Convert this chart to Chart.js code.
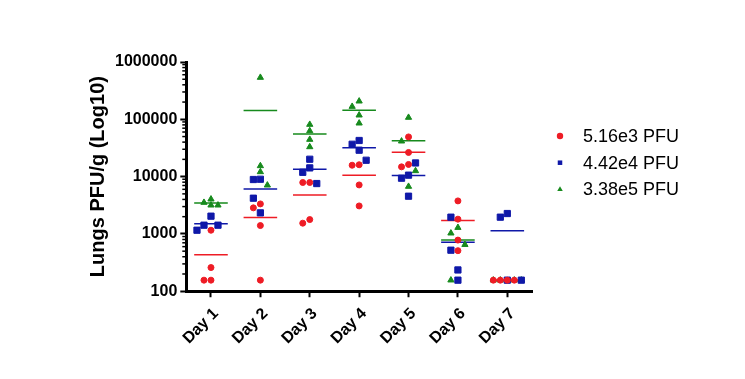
<!DOCTYPE html>
<html>
<head>
<meta charset="utf-8">
<script src="https://cdn.jsdelivr.net/npm/chart.js@4.4.0/dist/chart.umd.min.js"></script>
<style>
  html, body { margin: 0; padding: 0; background: #fff; }
  #wrap { width: 745px; height: 379px; }
</style>
</head>
<body>
<div id="wrap"><canvas id="chart"></canvas></div>
<script>
// Categories, legend names and y tick labels
const days = ["Day 1", "Day 2", "Day 3", "Day 4", "Day 5", "Day 6", "Day 7"];
const doseNames = ["5.16e3 PFU", "4.42e4 PFU", "3.38e5 PFU"];
const yTicks = [100, 1000, 10000, 100000, 1000000];

// Lung titres (PFU/g), four animals per day
const lowDose = [
  [1160, 259, 156, 156],
  [3340, 2850, 1400, 156],
  [7890, 7890, 1780, 1540],
  [16100, 15800, 7160, 3080],
  [49300, 26400, 16300, 14800],
  [3770, 1810, 780, 510],
  [156, 156, 156, 156]
];
const midDose = [
  [2040, 1420, 1420, 1160],
  [9000, 8900, 4200, 2330],
  [20100, 14200, 11900, 7570],
  [42700, 36700, 28900, 19300],
  [17300, 10600, 9380, 4550],
  [1960, 520, 235, 156],
  [2270, 1960, 156, 156]
];
const highDose = [
  [4040, 3530, 3170, 3170],
  [536000, 15400, 12100, 7080],
  [81100, 62800, 44400, 33000],
  [207000, 167000, 118000, 85500],
  [107500, 41500, 12600, 6720],
  [1290, 1030, 650, 156],
  [156, 156, 156, 156]
];

const doses = [lowDose, midDose, highDose];
const colors = ["#ee1c25", "#0f18a8", "#178a1d"];
const shapes = ["circle", "rect", "triangle"];
const sizes = [3, 4.4, 3.6];
const fontFamily = "'Liberation Sans', Arial, sans-serif";

function mean(arr) {
  return arr.reduce((a, b) => a + b, 0) / arr.length;
}

// scatter points, one dataset per dose
const pointSets = doses.map((dose, k) => ({
  type: "scatter",
  label: doseNames[k],
  data: dose.flatMap((vals, i) => vals.map(v => ({ x: i, y: v, day: i }))),
  pointStyle: shapes[k],
  pointRadius: sizes[k],
  pointBackgroundColor: colors[k],
  pointBorderColor: colors[k],
  pointBorderWidth: 1
}));

// mean bars, short horizontal lines per day
const halfBar = 0.34;
const meanSets = doses.map((dose, k) => ({
  type: "line",
  label: doseNames[k] + " mean",
  data: dose.flatMap((vals, i) => [
    { x: i - halfBar, y: mean(vals) },
    { x: i + halfBar, y: mean(vals) },
    { x: i, y: null }
  ]),
  borderColor: colors[k],
  borderWidth: 1.5,
  pointRadius: 0,
  spanGaps: false
}));

// minor ticks on the log axis + legend on the right
const extras = {
  id: "extras",
  afterDraw(chart) {
    const { ctx, chartArea } = chart;
    const y = chart.scales.y;
    ctx.save();
    ctx.strokeStyle = "#000";
    ctx.lineWidth = 1.5;
    for (let p = 2; p < 6; p++) {
      for (let m = 2; m < 10; m++) {
        const py = y.getPixelForValue(m * Math.pow(10, p));
        ctx.beginPath();
        ctx.moveTo(chartArea.left - 4, py);
        ctx.lineTo(chartArea.left, py);
        ctx.stroke();
      }
    }
    ctx.font = "18px " + fontFamily;
    ctx.textBaseline = "middle";
    doseNames.forEach((name, k) => {
      const ly = chartArea.top + 74 + k * 26.7;
      ctx.fillStyle = colors[k];
      Chart.helpers.drawPoint(ctx, { pointStyle: shapes[k], radius: 3.2, rotation: 0, borderWidth: 0 }, chartArea.right + 28, ly);
      ctx.fillStyle = "#000";
      ctx.fillText(name, chartArea.right + 51, ly + 1);
    });
    ctx.restore();
  }
};

const chart = new Chart(document.getElementById("chart"), {
  data: { datasets: [...pointSets, ...meanSets] },
  options: {
    responsive: true,
    maintainAspectRatio: false,
    animation: false,
    layout: { padding: { left: 84, right: 213, top: 62, bottom: 24 } },
    plugins: { legend: { display: false }, tooltip: { enabled: false } },
    scales: {
      x: {
        type: "linear",
        min: -0.5,
        max: 6.5,
        afterBuildTicks: s => { s.ticks = days.map((d, i) => ({ value: i })); },
        ticks: {
          autoSkip: false,
          maxRotation: 45,
          minRotation: 45,
          padding: 7,
          labelOffset: 5,
          color: "#000",
          font: { family: fontFamily, size: 16, weight: "bold" },
          callback: v => days[v]
        },
        grid: { drawOnChartArea: false, tickLength: 6, tickWidth: 2, tickColor: "#000" },
        border: { color: "#000", width: 3 }
      },
      y: {
        type: "logarithmic",
        min: 100,
        max: 1000000,
        afterBuildTicks: s => { s.ticks = yTicks.map(v => ({ value: v })); },
        ticks: {
          autoSkip: false,
          padding: 3,
          color: "#000",
          font: { family: fontFamily, size: 16, weight: "bold" },
          callback: v => String(v)
        },
        grid: { drawOnChartArea: false, tickLength: 6, tickWidth: 2, tickColor: "#000" },
        border: { color: "#000", width: 3 },
        title: {
          display: true,
          text: "Lungs PFU/g (Log10)",
          color: "#000",
          font: { family: fontFamily, size: 20, weight: "bold" },
          padding: { top: 2, bottom: 2 }
        }
      }
    }
  },
  plugins: [extras]
});

// spread points that sit on top of each other sideways (dot plot style)
function spreadPoints() {
  const xs = chart.scales.x;
  const ys = chart.scales.y;
  const unit = xs.getPixelForValue(1) - xs.getPixelForValue(0);
  const step = 7, near = 6;
  const slots = [0, -1, 1, -2, 2];
  days.forEach((d, i) => {
    const placed = [];
    pointSets.forEach(set => {
      set.data.filter(p => p.day === i).forEach(p => {
        const py = ys.getPixelForValue(p.y);
        let slot = slots.find(s =>
          placed.every(q => Math.abs(q.px - s * step) >= near || Math.abs(q.py - py) >= near));
        if (slot === undefined) {
          slot = slots[placed.filter(q => Math.abs(q.py - py) < near).length % slots.length];
        }
        placed.push({ px: slot * step, py });
        p.x = i + (slot * step) / unit;
      });
    });
  });
}

spreadPoints();
chart.update("none");
</script>
</body>
</html>
